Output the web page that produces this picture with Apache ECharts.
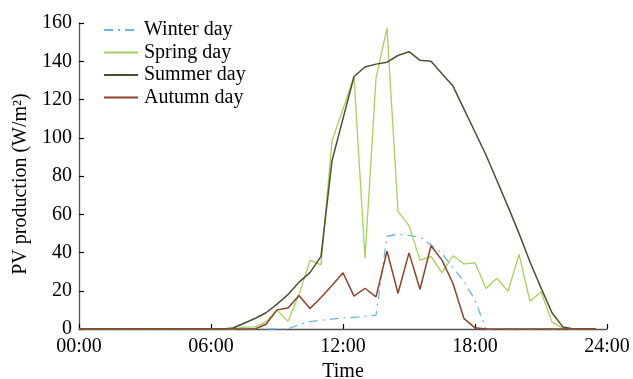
<!DOCTYPE html>
<html>
<head>
<meta charset="utf-8">
<script src="https://cdn.jsdelivr.net/npm/echarts@6/dist/echarts.min.js"></script>
<style>
  html, body { margin: 0; padding: 0; background: #fff; }
  #chart { width: 633px; height: 379px; }
</style>
</head>
<body>
<div id="chart"></div>
<script>
// Half-hourly PV production for four typical days (W/m2), 00:00 .. 23:30
const times = [
  '00:00','00:30','01:00','01:30','02:00','02:30','03:00','03:30',
  '04:00','04:30','05:00','05:30','06:00','06:30','07:00','07:30',
  '08:00','08:30','09:00','09:30','10:00','10:30','11:00','11:30',
  '12:00','12:30','13:00','13:30','14:00','14:30','15:00','15:30',
  '16:00','16:30','17:00','17:30','18:00','18:30','19:00','19:30',
  '20:00','20:30','21:00','21:30','22:00','22:30','23:00','23:30'
];

const winterDay = [
  0, 0, 0, 0, 0, 0, 0, 0,
  0, 0, 0, 0, 0, 0, 0, 0,
  0, 0, 0, 0, 2.3, 3.9, 4.6, 5.2,
  5.8, 6.1, 6.6, 7.2, 48.5, 49.5, 49, 48,
  44, 39.5, 32, 25, 15, 0, 0, 0,
  0, 0, 0, 0, 0, 0, 0, 0
];

const springDay = [
  0, 0, 0, 0, 0, 0, 0, 0,
  0, 0, 0, 0, 0, 0, 0, 1,
  1.1, 3.7, 10, 4, 18, 36, 33.5, 98.5,
  115, 132, 37, 131, 157.5, 61.5, 54, 36,
  38, 29.4, 38.3, 34, 34.6, 21.2, 26.5, 19.7,
  39, 14.5, 19.5, 3.6, 0.3, 0, 0, 0
];

const summerDay = [
  0, 0, 0, 0, 0, 0, 0, 0,
  0, 0, 0, 0, 0, 0, 0.5, 3,
  5.5, 8.5, 13, 18, 24.5, 29.5, 38, 88,
  110, 132, 137, 138.5, 139.5, 143, 145, 140.5,
  140, 133.5, 127, 115, 103, 91, 77.5, 64,
  50, 35, 21.5, 8.5, 1, 0, 0, 0
];

const autumnDay = [
  0, 0, 0, 0, 0, 0, 0, 0,
  0, 0, 0, 0, 0, 0, 0, 0,
  0, 2.5, 10, 11, 17.5, 10.7, 16.5, 22.7,
  29.4, 17.2, 21.3, 16.8, 40.7, 18.7, 39.8, 20.8,
  43.5, 36, 23.8, 5.4, 0.6, 0, 0, 0,
  0, 0, 0, 0, 0, 0, 0, 0
];

const xTickLabels = ['00:00', '06:00', '12:00', '18:00', '24:00'];
const yTicks = [0, 20, 40, 60, 80, 100, 120, 140, 160];

// "HH:MM" -> hours since midnight
const toHours = t => { const [h, m] = t.split(':').map(Number); return h + m / 60; };
const pairs = vals => times.map((t, i) => [toHours(t), vals[i]]);

const FONT = 'Liberation Serif';
const AXIS_COLOR = '#555555';

const chart = echarts.init(document.getElementById('chart'), null, { renderer: 'canvas' });

const lineSeries = (name, vals, color, width, type) => ({
  name,
  type: 'line',
  data: pairs(vals),
  symbol: 'none',
  animation: false,
  lineStyle: { color, width, type: type || 'solid' },
  itemStyle: { color }
});

chart.setOption({
  backgroundColor: '#ffffff',
  animation: false,
  grid: { left: 79, right: 26, top: 23, bottom: 50, containLabel: false, outerBoundsMode: 'none' },
  legend: {
    left: 103,
    top: 20,
    padding: 0,
    orient: 'vertical',
    itemWidth: 34,
    itemHeight: 12,
    itemGap: 2.5,
    itemStyle: { opacity: 0 },
    textStyle: { fontFamily: FONT, fontSize: 20, color: '#000', lineHeight: 20, padding: [0, 0, 0, 1] },
    data: ['Winter day', 'Spring day', 'Summer day', 'Autumn day']
  },
  xAxis: {
    type: 'value',
    min: 0,
    max: 24,
    interval: 6,
    name: 'Time',
    nameLocation: 'middle',
    nameGap: 32,
    nameTextStyle: { fontFamily: FONT, fontSize: 20, color: '#000' },
    axisLine: { show: true, lineStyle: { color: AXIS_COLOR, width: 1.3 } },
    axisTick: { show: true, inside: true, length: 5, lineStyle: { color: '#000', width: 1.2 } },
    axisLabel: {
      fontFamily: FONT, fontSize: 20, color: '#000', margin: 8,
      formatter: v => xTickLabels[Math.round(v / 6)]
    },
    splitLine: { show: false }
  },
  yAxis: {
    type: 'value',
    min: 0,
    max: 160,
    interval: 20,
    name: 'PV production (W/m²)',
    nameLocation: 'middle',
    nameGap: 44,
    nameRotate: 90,
    nameTextStyle: { fontFamily: FONT, fontSize: 20, color: '#000', padding: [0, 16, 0, 0] },
    axisLine: { show: true, lineStyle: { color: AXIS_COLOR, width: 1.3 } },
    axisTick: { show: true, inside: true, length: 5, lineStyle: { color: '#000', width: 1.2 } },
    axisLabel: {
      fontFamily: FONT, fontSize: 20, color: '#000', margin: 7,
      formatter: v => (yTicks.includes(v) ? String(v) : '')
    },
    splitLine: { show: false }
  },
  series: [
    lineSeries('Winter day', winterDay, '#6cb8e2', 1.3, [9, 5, 2, 5]),
    lineSeries('Spring day', springDay, '#a3d35a', 1.3),
    lineSeries('Summer day', summerDay, '#4b5130', 1.5),
    lineSeries('Autumn day', autumnDay, '#8c4328', 1.5)
  ]
});
</script>
</body>
</html>
